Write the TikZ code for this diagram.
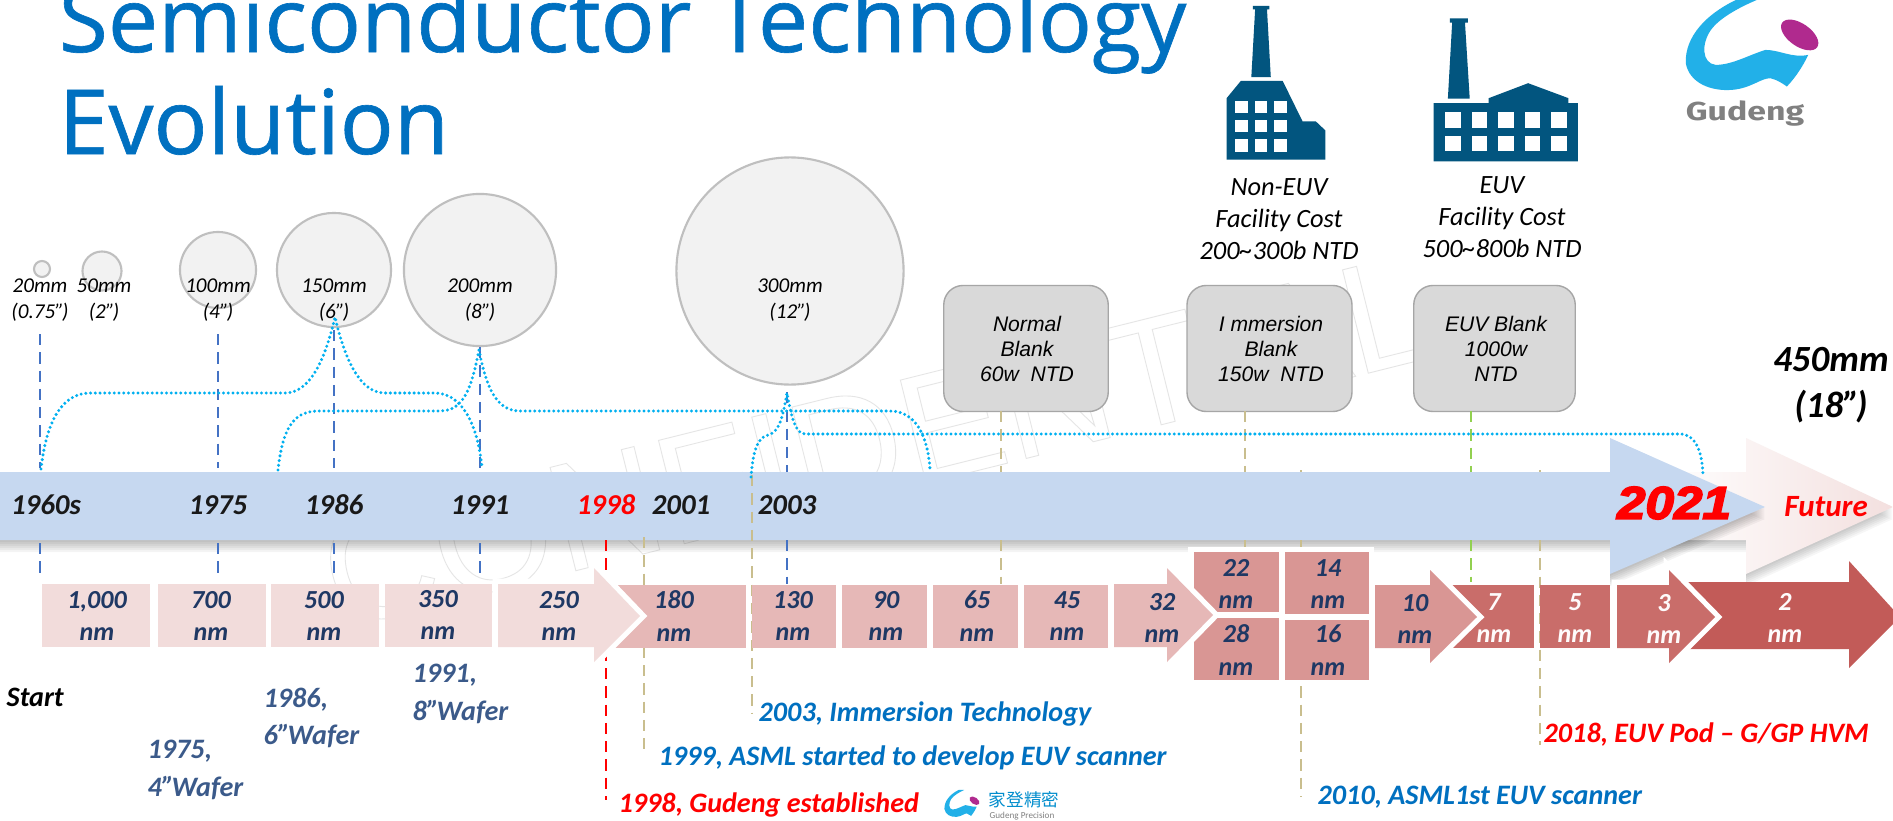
\documentclass[tikz,border=0pt]{standalone}
\usepackage{fontspec}
\setmainfont{Carlito}
\newfontfamily\arialf{Liberation Sans}
\newfontfamily\titlef[FakeBold=0.7]{Open Sans}
\newfontfamily\heavyf[FakeBold=4,FakeStretch=1.12]{Liberation Sans}
\newfontfamily\gudengf[FakeStretch=1.3]{Fira Sans}
\newfontfamily\cjkf{Noto Sans CJK TC}
\newcommand{\inchmark}{”\kern-.09em}
\usetikzlibrary{shadings,fadings}
\definecolor{barblue}{HTML}{C6D8F0}
\definecolor{pinkA}{HTML}{F2DCDB}
\definecolor{pinkB}{HTML}{E6B8B7}
\definecolor{pinkC}{HTML}{D99694}
\definecolor{pinkD}{HTML}{C96D6A}
\definecolor{pinkE}{HTML}{C25B58}
\definecolor{navy}{HTML}{1F3864}
\definecolor{slateb}{HTML}{3B5A8A}
\definecolor{msblue}{HTML}{0070C0}
\definecolor{dashblue}{HTML}{4472C4}
\definecolor{tan}{HTML}{C9BE8E}
\definecolor{leaf}{HTML}{92D050}
\definecolor{cyanx}{HTML}{00B0F0}
\definecolor{factory}{HTML}{02557F}
\definecolor{logoblue}{HTML}{22B0E8}
\definecolor{logopink}{HTML}{B02A8E}
\tikzset{
 wafer/.style={circle,draw=black!25,fill=black!5,line width=.6pt,minimum size=#1*0.02cm,inner sep=0pt},
 waferlab/.style={font=\itshape\fontsize{6}{7.2}\selectfont,align=center,inner sep=0pt,text=black},
 blankbox/.style={rectangle,rounded corners=5.5pt,draw=black!35,fill=black!15,line width=.4pt,inner sep=0pt,minimum width=#1*0.01cm,minimum height=1.26cm},
 blanklab/.style={font=\arialf\itshape\fontsize{6}{7.2}\selectfont,align=center,inner sep=0pt},
 costlab/.style={font=\itshape\fontsize{7.5}{9.1}\selectfont,align=center,inner sep=0pt},
 yearlab/.style={font=\bfseries\itshape\fontsize{8.2}{10}\selectfont,inner sep=0pt,text=black!90},
 numlab/.style={font=\bfseries\itshape\fontsize{7.4}{9.2}\selectfont,align=center,inner sep=0pt,text=navy},
 numwhite/.style={numlab,text=white!90!pinkA},
 notelab/.style={font=\bfseries\itshape\fontsize{8}{9.5}\selectfont,inner sep=0pt,anchor=west,align=left},
 drop/.style={dashed,line width=.5pt,dash pattern=on 3.2pt off 2pt},
 dots/.style={draw=cyanx,line width=.95pt,line cap=round,dash pattern=on 0pt off 1.35pt},
 cut/.style={preaction={draw=white,line width=3pt,line join=miter}},
 titletext/.style={font=\titlef\fontsize{25.5}{30}\selectfont,text=msblue,anchor=base west,inner sep=0pt},
}
\begin{document}
\begin{tikzpicture}[x=0.01cm,y=-0.01cm]
\clip (0,0) rectangle (1893,821);
\fill[white] (0,0) rectangle (1893,821);
% watermark
\node[rotate=14,font=\arialf\fontsize{44}{44}\selectfont,text=black!5,inner sep=0pt] (wm) at (876,441) {\special{pdf:code q 1 Tr 0.25 w 0.9 G}CONFIDENTIAL\special{pdf:code Q}};
% title
\node[titletext] (t1) at (58,52) {Semiconductor Technology};
\node[titletext] (t2) at (58,154) {Evolution};
% wafers
\node[wafer=8] (c20) at (42,269) {};
\node[wafer=19.5] (c50) at (102,271) {};
\node[wafer=38] (c100) at (218,270) {};
\node[wafer=57] (c150) at (334,270) {};
\node[wafer=76] (c200) at (480,270) {};
\node[wafer=113.5] (c300) at (790,271) {};
\node[waferlab] (l20) at (40,300) {20mm\\(0.75\inchmark)};
\node[waferlab] (l50) at (104,300) {50mm\\(2\inchmark)};
\node[waferlab] (l100) at (218,300) {100mm\\(4\inchmark)};
\node[waferlab] (l150) at (334,300) {150mm\\(6\inchmark)};
\node[waferlab] (l200) at (480,300) {200mm\\(8\inchmark)};
\node[waferlab] (l300) at (790,300) {300mm\\(12\inchmark)};
% factories
\begin{scope}[xshift=11.5cm,x=0.004739cm,y=-0.003333cm]
 \fill[factory] (215,18)--(250,18)--(250,28)--(245,28)--(253,232)--(212,232)--(220,28)--(215,28)--cycle;
 \fill[factory] (160,295)--(190,243)--(278,243)--(320,365)--(348,365)--(368,392)--(368,480)--(160,480)--cycle;
 \foreach \cx in {178,219,260} \foreach \ry/\rb in {302/340,360/398,418/458}
   \fill[white] (\cx,\ry) rectangle (\cx+27,\rb);
 \fill[factory] (630,55)--(668,55)--(668,68)--(662,68)--(672,296)--(626,296)--(635,68)--(630,68)--cycle;
 \fill[factory] (596,310)--(712,310)--(712,295)--(795,250)--(880,295)--(880,310)--(900,310)--(900,485)--(596,485)--cycle;
 \foreach \cx in {620,676,732,788,843} \foreach \ry/\rb in {338/385,408/455}
   \fill[white] (\cx,\ry) rectangle (\cx+33,\rb);
 % logo
 \fill[logoblue] (1240,-5) .. controls (1170,40) and (1125,110) .. (1127,190)
   .. controls (1135,250) and (1180,275) .. (1225,270)
   .. controls (1265,265) and (1285,235) .. (1305,235)
   .. controls (1320,240) and (1330,250) .. (1340,260)
   .. controls (1360,230) and (1375,195) .. (1385,165)
   .. controls (1350,175) and (1325,150) .. (1295,150)
   .. controls (1260,165) and (1225,195) .. (1190,195)
   .. controls (1160,190) and (1160,130) .. (1180,90)
   .. controls (1200,50) and (1250,15) .. (1285,-5) -- cycle;
 \fill[logopink,rotate around={-35:(1367,105)}] (1367,105) ellipse [x radius=45,y radius=34];
\end{scope}
\node[font=\gudengf\bfseries\fontsize{7.4}{9}\selectfont,text=black!50,inner sep=0pt] (gud) at (1745,114) {Gudeng};
\node[costlab] (nc) at (1279,219) {Non-EUV\\Facility Cost\\200\textasciitilde 300b NTD};
\node[costlab] (ec) at (1502,217) {EUV\\Facility Cost\\500\textasciitilde 800b NTD};
% blank boxes
\node[blankbox=164.5] (bN) at (1026,348.5) {};
\node[blankbox=165] (bI) at (1269.5,348.5) {};
\node[blankbox=161.5] (bE) at (1494.5,348.5) {};
\node[blanklab] at (1027,349) {Normal\\Blank\\60w\ \ NTD};
\node[blanklab] at (1271,349) {I mmersion\\Blank\\150w\ \ NTD};
\node[blanklab] at (1496,349) {EUV Blank\\1000w\\NTD};
% future arrow
\foreach \s in {2,4,6,8,10,12}
 \fill[black,opacity=.035] (1660,472+\s)--(1746,472+\s)--(1746,438+\s)--(1893,507+\s)--(1746,574+\s)--(1746,540+\s)--(1660,540+\s)--cycle;
\shade[left color=white,right color=pinkA!90!white] (1660,472)--(1746,472)--(1746,438)--(1893,507)--(1746,574)--(1746,540)--(1660,540)--cycle;
% blue arrow
\foreach \s in {2,4,6,8,10,12}
 \fill[black,opacity=.045] (0,472+\s)--(1610,472+\s)--(1610,438+\s)--(1765,507+\s)--(1610,574+\s)--(1610,540+\s)--(0,540+\s)--cycle;
\fill[barblue] (0,472)--(1610,472)--(1610,438)--(1765,507)--(1610,574)--(1610,540)--(0,540)--cycle;
% vertical guide lines
\draw[drop,dashblue] (40,334)--(40,468) (40,543)--(40,578);
\draw[drop,dashblue] (218,334)--(218,468) (218,543)--(218,578);
\draw[drop,dashblue] (334,330)--(334,468) (334,543)--(334,578);
\draw[drop,dashblue] (c200.south)--(480,468) (480,543)--(480,578);
\draw[drop,dashblue] (787,392)--(787,472) (787,540)--(787,584);
\draw[drop,red] (606,540)--(606,800);
\draw[drop,tan] (644,537)--(644,755);
\draw[drop,tan] (752,475)--(752,713);
\draw[drop,tan] (1001,411)--(1001,472) (1001,540)--(1001,584);
\draw[drop,tan] (1245,411)--(1245,472) (1245,540)--(1245,552);
\draw[drop,leaf] (1471,411)--(1471,472) (1471,540)--(1471,582);
\draw[drop,tan] (1301,470)--(1301,472) (1301,540)--(1301,797);
\draw[drop,tan] (1540,470)--(1540,472) (1540,540)--(1540,745);
% dotted braces
\draw[dots] (41,469) .. controls (46,425) and (60,393) .. (90,393) -- (285,393) .. controls (310,393) and (325,360) .. (335,317)
  .. controls (345,360) and (360,393) .. (385,393) -- (435,393) .. controls (462,393) and (478,425) .. (482,468);
\draw[dots] (278,470) .. controls (282,435) and (290,411) .. (318,411) -- (440,411) .. controls (465,411) and (472,385) .. (479,350)
  .. controls (486,385) and (495,411) .. (520,411) -- (890,411) .. controls (915,411) and (928,435) .. (930,470);
\draw[dots] (751,477) .. controls (753,450) and (758,437) .. (768,435) .. controls (780,432) and (783,415) .. (787,393)
  .. controls (791,415) and (795,434) .. (805,434) -- (1680,434) .. controls (1695,434) and (1702,450) .. (1703,475);
% year labels
\node[yearlab] (y60) at (46,505) {1960s};
\node[yearlab] (y75) at (218,505) {1975};
\node[yearlab] (y86) at (334,505) {1986};
\node[yearlab] (y91) at (480,505) {1991};
\node[yearlab,text=red] (y98) at (606,505) {1998};
\node[yearlab] (y01) at (681,505) {2001};
\node[yearlab] (y03) at (787,505) {2003};
\node[font=\heavyf\bfseries\itshape\fontsize{13}{15}\selectfont,text=red,inner sep=0pt] (y21) at (1674,503) {2021};
\node[font=\bfseries\itshape\fontsize{8.8}{10}\selectfont,text=red,inner sep=0pt] (yF) at (1826,507) {Future};
\node[font=\bfseries\itshape\fontsize{10.5}{12}\selectfont,align=center,inner sep=0pt] (big) at (1831,385) {450mm\\[1.2pt](18\inchmark)};
% node boxes
\foreach \xa/\xb in {42/150,158/266,271/379,385/492} \fill[pinkA] (\xa,584) rectangle (\xb,647);
\fill[pinkB] (610,585) rectangle (746,648);
\fill[pinkA,cut] (498,584)--(594,584)--(594,568)--(640,616)--(594,662)--(594,647)--(498,647)--cycle;
\foreach \xa/\xb in {752/836,842/927,933/1018,1024/1108} \fill[pinkB] (\xa,585) rectangle (\xb,648);
% grid behind
\fill[white] (1188,547) rectangle (1374,684);
\fill[pinkC] (1194,552) rectangle (1279,612);
\fill[pinkC] (1285,552) rectangle (1369,614);
\fill[pinkC] (1194,618) rectangle (1279,680);
\fill[pinkC] (1285,620) rectangle (1369,680);
\fill[pinkB,cut] (1114,584)--(1167,584)--(1167,568)--(1213,615)--(1167,662)--(1167,647)--(1114,647)--cycle;
\fill[pinkD] (1450,585) rectangle (1534,648);
\fill[pinkC,cut] (1375,585)--(1430,585)--(1430,570)--(1477,617)--(1430,663)--(1430,648)--(1375,648)--cycle;
\fill[pinkD] (1540,585) rectangle (1610,648);
\fill[pinkE] (1680,582)--(1849,582)--(1849,561)--(1900,617)--(1849,668)--(1849,649)--(1680,649)--cycle;
\fill[pinkD,cut] (1617,585)--(1669,585)--(1669,570)--(1715,617)--(1669,663)--(1669,648)--(1617,648)--cycle;
% node texts
\node[numlab] at (97,616) {1,000\\nm};
\node[numlab] at (211,616) {700\\nm};
\node[numlab] at (324,616) {500\\nm};
\node[numlab] at (438,615) {350\\nm};
\node[numlab] at (559,616) {250\\nm};
\node[numlab] at (674,616) {180\\nm};
\node[numlab] at (793,616) {130\\nm};
\node[numlab] at (886,616) {90\\nm};
\node[numlab] at (977,616) {65\\nm};
\node[numlab] at (1067,616) {45\\nm};
\node[numlab] at (1162,618) {32\\nm};
\node[numlab] at (1236,584) {22\\nm};
\node[numlab] at (1328,584) {14\\nm};
\node[numlab] at (1236,650) {28\\nm};
\node[numlab] at (1328,650) {16\\nm};
\node[numlab] at (1415,619) {10\\nm};
\node[numwhite] at (1494,618) {7\\nm};
\node[numwhite] at (1575,618) {5\\nm};
\node[numwhite] at (1664,619) {3\\nm};
\node[numwhite] at (1785,618) {2\\nm};
% bottom notes
\node[notelab,text=black] (s) at (6,697) {Start};
\node[notelab,text=slateb] (n75) at (147,770) {1975,\\[1.2pt]4\inchmark Wafer};
\node[notelab,text=slateb] (n86) at (263,718) {1986,\\[1.2pt]6\inchmark Wafer};
\node[notelab,text=slateb] (n91) at (412,694) {1991,\\[1.2pt]8\inchmark Wafer};
\node[notelab,text=msblue] (n03) at (758,714) {2003, Immersion Technology};
\node[notelab,text=msblue] (n99) at (658,758) {1999, ASML started to develop EUV scanner};
\node[notelab,text=red] (n98) at (618,805) {1998, Gudeng established};
\node[notelab,text=red] (n18) at (1543,735) {2018, EUV Pod – G/GP HVM};
\node[notelab,text=msblue] (n10) at (1317,797) {2010, ASML1st EUV scanner};
% small logo
\begin{scope}[xshift=9.43cm,yshift=-7.9cm,x=0.00125cm,y=-0.00098cm]
 \fill[logoblue] (120,-5) .. controls (50,40) and (5,110) .. (7,190)
   .. controls (15,250) and (60,275) .. (105,270)
   .. controls (145,265) and (165,235) .. (185,235)
   .. controls (200,240) and (210,250) .. (220,260)
   .. controls (240,230) and (255,195) .. (265,165)
   .. controls (230,175) and (205,150) .. (175,150)
   .. controls (140,165) and (105,195) .. (70,195)
   .. controls (40,190) and (40,130) .. (60,90)
   .. controls (80,50) and (130,15) .. (165,-5) -- cycle;
 \fill[logopink,rotate around={-35:(247,105)}] (247,105) ellipse [x radius=45,y radius=34];
\end{scope}
\node[font=\cjkf\fontsize{5}{6}\selectfont,text=msblue!80!cyan,inner sep=0pt] (cj) at (1024,800) {家登精密};
\node[font=\fontsize{2.6}{3}\selectfont,text=black!50,inner sep=0pt] (gp) at (1022,816) {Gudeng Precision};
\end{tikzpicture}
\end{document}
